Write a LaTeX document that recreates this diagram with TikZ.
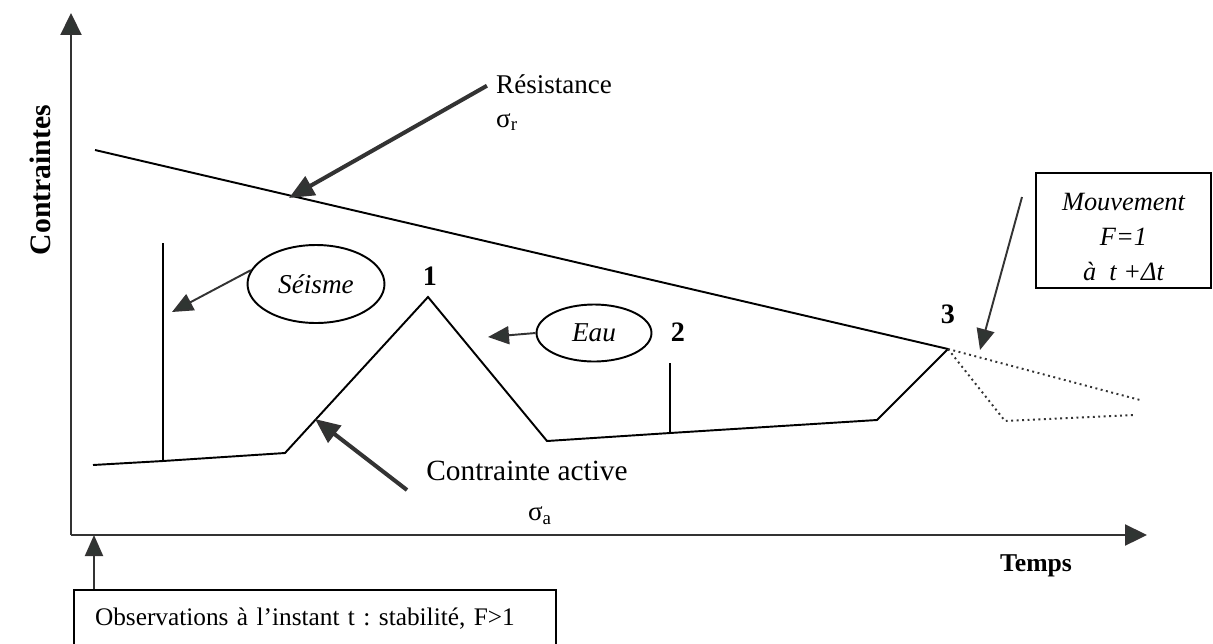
\documentclass[tikz,border=0pt]{standalone}
\usepackage{fontspec}
\setmainfont{Liberation Serif}
\usetikzlibrary{arrows.meta,shapes.geometric}
\definecolor{tipGray}{HTML}{2F3532}
\frenchspacing
\tikzset{
    cline/.style={line width=1.1pt, black},
    cdot/.style={line width=1.1pt, black!80, dotted},
    caxis/.style={line width=1.3pt, black!80, -{Triangle[length=4.4mm, width=4.2mm, fill=tipGray]}},
    carrow/.style={line width=1.1pt, black!80, -{Triangle[length=4.2mm, width=3.6mm, fill=tipGray]}},
    cbig/.style={line width=2.3pt, black!80, -{Triangle[length=5mm, width=4.2mm, fill=tipGray]}},
    cbox/.style={draw, rectangle, line width=1.1pt},
    coval/.style={draw, ellipse, line width=1.1pt, font=\fontsize{15.5}{18}\selectfont\itshape},
    cnum/.style={font=\fontsize{16}{18}\selectfont\bfseries}
}

\begin{document}
\begin{tikzpicture}[x=0.02cm, y=-0.02cm, every node/.style={font=\fontsize{15.4}{18}\selectfont}]
    \useasboundingbox (0,0) rectangle (1213,643);
    \clip (0,0) rectangle (1213,643);
    \coordinate (O) at (71,535);
    \coordinate (ytop) at (71,13);
    \coordinate (xend) at (1147,535);
    \draw[caxis] (O) -- (ytop);
    \draw[caxis] (O) -- (xend);
    \node[font=\fontsize{16.9}{18}\selectfont\bfseries, rotate=90] (ylab) at (40,180) {Contraintes};
    \node[font=\fontsize{14.6}{18}\selectfont\bfseries] (xlab) at (1036,566) {Temps};
    % resistance
    \coordinate (r0) at (95,150);
    \coordinate (p3) at (948,349);
    \draw[cline] (r0) -- (p3);
    \node[anchor=west] (res) at (490,84) {Résistance};
    \node[anchor=west] (sigr) at (490,122) {σ\textsubscript{r}};
    \coordinate (rk) at (289,198);
    \draw[cbig, shorten <=2pt] (res.west) -- (rk);
    % contrainte active
    \coordinate (a1) at (93,465);
    \coordinate (s1) at (163,461);
    \coordinate (a3) at (285,453);
    \coordinate (p1) at (428,297);
    \coordinate (a5) at (547,441);
    \coordinate (s2) at (670,433);
    \coordinate (a7) at (877,420);
    \draw[cline] (a1) -- (s1) -- (a3) -- (p1) -- (a5) -- (s2) -- (a7) -- (p3);
    \coordinate (s1top) at (163,243);
    \coordinate (s2top) at (670,363);
    \draw[cline] (s1) -- (s1top);
    \draw[cline] (s2) -- (s2top);
    \coordinate (d1) at (1140,400);
    \coordinate (d2) at (1005,421);
    \coordinate (d3) at (1135,415);
    \draw[cdot] (p3) -- (d1);
    \draw[cdot] (p3) -- (d2) -- (d3);
    \foreach \n/\x/\y in {1/430/276, 2/678/332, 3/948/314}
        \node[cnum] (n\n) at (\x,\y) {\n};
    \node[font=\fontsize{16.7}{18}\selectfont] (act) at (527,471) {Contrainte active};
    \node (siga) at (540,516) {σ\textsubscript{a}};
    \coordinate (a0) at (407,490);
    \coordinate (ak) at (315,419);
    \draw[cbig] (a0) -- (ak);
    % facteurs
    \node[coval, minimum width=2.74cm, minimum height=1.56cm] (sei) at (316,284) {Séisme};
    \coordinate (sk) at (172,312);
    \draw[carrow] (sei.168) -- (sk);
    \node[coval, minimum width=2.3cm, minimum height=1.14cm] (eau) at (594,333) {Eau};
    \coordinate (ek) at (488,337);
    \draw[carrow] (eau.west) -- (ek);
    % boites
    \node[cbox, minimum width=3.5cm, minimum height=2.3cm, align=center, font=\fontsize{15}{20}\selectfont\itshape] (mvt) at (1123.5,230.5) {\rule{0pt}{17pt}Mouvement\\F=1\\à~~t +Δt};
    \coordinate (m0) at (1022,197);
    \coordinate (mk) at (980,350);
    \draw[carrow] (m0) -- (mk);
    \node[cbox, minimum width=9.64cm, minimum height=1.16cm, inner xsep=0.42cm, text width=8.8cm, align=left, font=\fontsize{14.4}{18}\selectfont] (obs) at (315,619) {Observations à l’instant t : stabilité, F>1};
    \coordinate (ok) at (94,535);
    \draw[carrow] (obs.north -| ok) -- (ok);
\end{tikzpicture}
\end{document}
